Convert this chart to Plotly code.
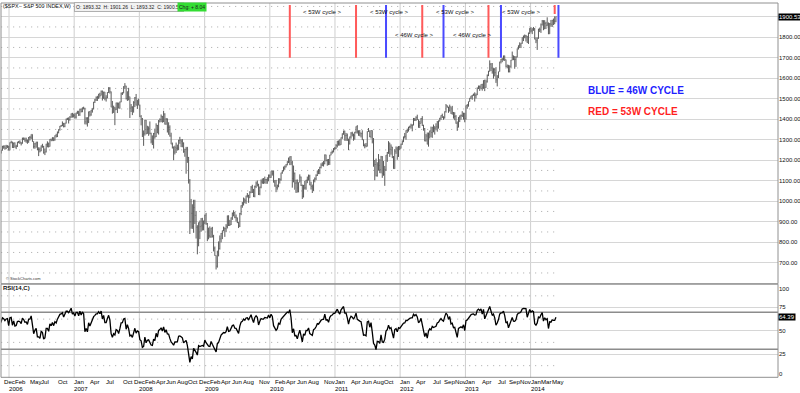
import numpy as np
import pandas as pd
import plotly.graph_objects as go

# ---------------- DATA: $SPX weekly bars (week ending Friday), from 2005-07-08 ----------------
open_ = [
    # 2005 (from Jul 8)
    1194, 1212, 1228, 1234, 1234, 1226, 1230, 1220, 1205, 1218, 1241, 1238, 1215, 1229, 1196, 1187, 1178, 1198, 1220, 1235, 1248, 1268, 1265, 1259, 1267, 1269,
    # 2006
    1248, 1286, 1288, 1262, 1284, 1264, 1267, 1287, 1289, 1287, 1281, 1307, 1303, 1295, 1296, 1289, 1311, 1311, 1326, 1291, 1267, 1280, 1288, 1252, 1252, 1245,
    1270, 1266, 1236, 1240, 1279, 1279, 1267, 1302, 1295, 1311, 1299, 1320, 1315, 1336, 1350, 1366, 1369, 1377, 1364, 1381, 1401, 1401, 1397, 1410, 1427, 1411,
    # 2007
    1418, 1410, 1431, 1431, 1422, 1448, 1438, 1456, 1451, 1387, 1403, 1387, 1436, 1421, 1444, 1453, 1484, 1494, 1506, 1506, 1523, 1516, 1536, 1508, 1533, 1503,
    1503, 1530, 1553, 1534, 1459, 1433, 1454, 1446, 1479, 1474, 1454, 1484, 1526, 1527, 1558, 1562, 1501, 1535, 1510, 1454, 1459, 1441, 1481, 1505, 1468, 1485,
    # 2008
    1468, 1412, 1401, 1325, 1331, 1395, 1331, 1350, 1353, 1331, 1293, 1288, 1330, 1315, 1370, 1333, 1390, 1398, 1414, 1388, 1425, 1376, 1400, 1361, 1360, 1318,
    1278, 1263, 1240, 1261, 1258, 1260, 1296, 1298, 1292, 1283, 1242, 1252, 1255, 1213, 1099, 899, 941, 877, 969, 931, 873, 800, 896, 876, 880, 888,
    # 2009 (+ week ending 2010-01-01)
    903, 932, 890, 850, 832, 826, 869, 827, 770, 735, 683, 757, 769, 816, 843, 857, 870, 866, 878, 929, 883, 887, 919, 940, 946, 921,
    919, 896, 879, 940, 979, 988, 1011, 1004, 1026, 1029, 1016, 1043, 1068, 1044, 1025, 1072, 1088, 1080, 1036, 1069, 1094, 1091, 1092, 1106, 1106, 1103, 1127,
    # 2010
    1116, 1145, 1136, 1092, 1074, 1066, 1075, 1109, 1105, 1139, 1150, 1160, 1167, 1178, 1194, 1192, 1217, 1187, 1111, 1136, 1088, 1089, 1065, 1092, 1118, 1077,
    1023, 1078, 1065, 1103, 1102, 1122, 1079, 1072, 1065, 1105, 1110, 1126, 1149, 1146, 1165, 1176, 1183, 1183, 1226, 1199, 1200, 1189, 1225, 1240, 1244, 1257,
    # 2011
    1258, 1272, 1293, 1283, 1276, 1311, 1329, 1343, 1320, 1321, 1304, 1279, 1314, 1332, 1328, 1320, 1337, 1364, 1340, 1338, 1333, 1331, 1300, 1271, 1272, 1268,
    1340, 1344, 1316, 1345, 1292, 1199, 1179, 1124, 1177, 1174, 1154, 1216, 1136, 1131, 1155, 1225, 1238, 1285, 1253, 1264, 1216, 1159, 1244, 1255, 1220, 1265,
    # 2012
    1258, 1278, 1289, 1315, 1316, 1345, 1343, 1361, 1366, 1370, 1371, 1404, 1397, 1409, 1398, 1370, 1379, 1403, 1369, 1353, 1295, 1318, 1278, 1326, 1343, 1335,
    1362, 1355, 1357, 1363, 1386, 1391, 1406, 1418, 1411, 1407, 1438, 1466, 1460, 1441, 1461, 1429, 1433, 1412, 1414, 1380, 1360, 1409, 1416, 1418, 1414, 1430,
    # 2013
    1402, 1467, 1472, 1486, 1503, 1513, 1518, 1520, 1516, 1518, 1551, 1561, 1557, 1569, 1553, 1589, 1555, 1582, 1614, 1634, 1668, 1650, 1631, 1643, 1627, 1592,
    1606, 1632, 1680, 1692, 1692, 1710, 1691, 1656, 1664, 1633, 1655, 1688, 1710, 1692, 1691, 1703, 1745, 1760, 1762, 1771, 1798, 1805, 1806, 1805, 1775, 1818,
    # 2014
    1841, 1831, 1842, 1839, 1790, 1783, 1797, 1839, 1836, 1860, 1878, 1841, 1867, 1858, 1865, 1816, 1865, 1863, 1881, 1878, 1878,
]
high = [
    1212, 1229, 1237, 1245, 1245, 1237, 1234, 1222, 1221, 1243, 1244, 1238, 1233, 1233, 1197, 1197, 1202, 1224, 1237, 1249, 1270, 1272, 1273, 1275, 1273, 1270,
    1287, 1295, 1290, 1286, 1287, 1275, 1290, 1294, 1297, 1288, 1310, 1311, 1310, 1310, 1301, 1313, 1318, 1326, 1326, 1292, 1284, 1290, 1290, 1263, 1262, 1272,
    1280, 1270, 1257, 1280, 1292, 1286, 1303, 1305, 1312, 1311, 1321, 1329, 1340, 1351, 1367, 1372, 1389, 1382, 1382, 1403, 1407, 1409, 1415, 1428, 1431, 1427,
    1429, 1432, 1441, 1441, 1449, 1453, 1457, 1461, 1456, 1410, 1410, 1437, 1440, 1445, 1453, 1484, 1499, 1511, 1514, 1523, 1529, 1540, 1540, 1534, 1533, 1517,
    1532, 1556, 1556, 1535, 1489, 1466, 1460, 1481, 1481, 1481, 1486, 1530, 1532, 1561, 1576, 1563, 1535, 1553, 1510, 1474, 1463, 1488, 1508, 1523, 1495, 1500,
    1471, 1420, 1406, 1345, 1396, 1396, 1368, 1365, 1389, 1334, 1321, 1333, 1354, 1380, 1372, 1396, 1404, 1423, 1416, 1441, 1429, 1406, 1404, 1385, 1370, 1334,
    1286, 1267, 1271, 1286, 1276, 1300, 1314, 1302, 1303, 1287, 1256, 1265, 1265, 1216, 1108, 1011, 985, 1007, 1007, 952, 883, 896, 906, 918, 919, 906,
    934, 943, 894, 871, 877, 870, 875, 836, 779, 736, 758, 804, 833, 845, 857, 876, 871, 888, 930, 931, 909, 921, 945, 956, 947, 935,
    920, 898, 943, 980, 996, 1018, 1013, 1027, 1040, 1031, 1049, 1074, 1080, 1060, 1076, 1096, 1101, 1085, 1071, 1106, 1111, 1113, 1120, 1108, 1117, 1130, 1130,
    1146, 1150, 1150, 1103, 1104, 1081, 1112, 1112, 1139, 1151, 1169, 1174, 1181, 1195, 1213, 1218, 1220, 1197, 1174, 1140, 1105, 1106, 1092, 1131, 1120, 1081,
    1079, 1099, 1104, 1120, 1130, 1129, 1095, 1081, 1105, 1116, 1131, 1149, 1157, 1168, 1185, 1190, 1196, 1228, 1227, 1205, 1206, 1226, 1241, 1247, 1259, 1264,
    1278, 1294, 1296, 1302, 1311, 1331, 1344, 1344, 1333, 1330, 1304, 1315, 1337, 1339, 1329, 1338, 1365, 1371, 1346, 1347, 1334, 1346, 1301, 1281, 1284, 1341,
    1357, 1344, 1347, 1345, 1308, 1201, 1208, 1190, 1230, 1205, 1221, 1220, 1196, 1172, 1225, 1240, 1293, 1285, 1277, 1265, 1220, 1254, 1267, 1266, 1269, 1270,
    1281, 1297, 1315, 1333, 1346, 1354, 1363, 1368, 1378, 1375, 1406, 1405, 1414, 1422, 1391, 1392, 1406, 1415, 1373, 1357, 1328, 1335, 1335, 1344, 1364, 1362,
    1374, 1366, 1380, 1391, 1394, 1406, 1419, 1427, 1414, 1438, 1474, 1467, 1457, 1471, 1460, 1465, 1435, 1434, 1420, 1389, 1410, 1418, 1423, 1439, 1431, 1430,
    1467, 1473, 1486, 1503, 1514, 1518, 1525, 1531, 1526, 1555, 1564, 1564, 1570, 1573, 1590, 1593, 1593, 1618, 1636, 1687, 1674, 1674, 1649, 1649, 1654, 1615,
    1632, 1680, 1694, 1699, 1710, 1709, 1690, 1666, 1663, 1663, 1689, 1730, 1710, 1708, 1707, 1745, 1760, 1775, 1772, 1799, 1808, 1813, 1811, 1806, 1823, 1844,
    1849, 1843, 1850, 1845, 1799, 1798, 1841, 1847, 1867, 1884, 1883, 1883, 1875, 1897, 1872, 1869, 1884, 1885, 1891, 1902, 1901.26,
]
low = [
    1183, 1212, 1221, 1224, 1222, 1221, 1216, 1205, 1201, 1218, 1229, 1212, 1211, 1194, 1168, 1168, 1174, 1198, 1218, 1233, 1247, 1256, 1251, 1254, 1259, 1248,
    1248, 1282, 1260, 1259, 1262, 1254, 1265, 1283, 1279, 1272, 1281, 1298, 1290, 1285, 1280, 1285, 1296, 1303, 1290, 1257, 1256, 1261, 1249, 1220, 1238, 1244,
    1261, 1232, 1225, 1238, 1263, 1262, 1266, 1293, 1295, 1293, 1295, 1311, 1313, 1331, 1344, 1363, 1366, 1360, 1361, 1379, 1396, 1379, 1393, 1407, 1408, 1409,
    1403, 1403, 1426, 1416, 1416, 1433, 1434, 1448, 1375, 1374, 1364, 1381, 1413, 1417, 1432, 1447, 1479, 1489, 1489, 1499, 1505, 1516, 1491, 1499, 1492, 1486,
    1503, 1528, 1525, 1458, 1427, 1431, 1371, 1445, 1430, 1453, 1451, 1483, 1518, 1527, 1547, 1496, 1489, 1492, 1406, 1435, 1420, 1432, 1459, 1467, 1450, 1467,
    1411, 1370, 1313, 1270, 1320, 1326, 1329, 1319, 1326, 1282, 1274, 1257, 1305, 1313, 1332, 1325, 1384, 1386, 1383, 1386, 1374, 1373, 1335, 1324, 1315, 1278,
    1257, 1200, 1228, 1235, 1247, 1249, 1280, 1264, 1263, 1236, 1217, 1134, 1187, 1086, 840, 866, 865, 846, 889, 818, 741, 780, 815, 851, 857, 858,
    888, 885, 805, 814, 822, 822, 823, 755, 734, 667, 676, 731, 764, 799, 815, 854, 826, 849, 867, 879, 879, 884, 909, 926, 917, 901,
    893, 869, 874, 932, 968, 979, 990, 987, 1018, 992, 1016, 1039, 1040, 1020, 1019, 1064, 1072, 1030, 1029, 1063, 1085, 1084, 1086, 1085, 1085, 1097, 1114,
    1114, 1125, 1091, 1071, 1044, 1056, 1068, 1086, 1100, 1134, 1145, 1153, 1165, 1175, 1186, 1176, 1176, 1066, 1092, 1056, 1040, 1042, 1043, 1092, 1074, 1011,
    1018, 1057, 1056, 1088, 1102, 1078, 1057, 1040, 1050, 1092, 1103, 1123, 1132, 1132, 1160, 1171, 1169, 1180, 1194, 1173, 1176, 1177, 1224, 1232, 1238, 1249,
    1254, 1262, 1271, 1271, 1275, 1304, 1324, 1295, 1294, 1294, 1249, 1277, 1305, 1316, 1295, 1300, 1331, 1330, 1319, 1317, 1311, 1298, 1268, 1258, 1263, 1267,
    1338, 1312, 1306, 1282, 1168, 1102, 1121, 1120, 1149, 1137, 1136, 1114, 1124, 1075, 1148, 1192, 1231, 1216, 1227, 1210, 1158, 1158, 1231, 1202, 1216, 1249,
    1257, 1275, 1290, 1306, 1300, 1333, 1340, 1355, 1354, 1341, 1370, 1391, 1391, 1396, 1358, 1357, 1379, 1367, 1344, 1292, 1291, 1277, 1266, 1306, 1312, 1309,
    1336, 1325, 1346, 1339, 1354, 1389, 1397, 1406, 1397, 1403, 1432, 1456, 1431, 1438, 1426, 1422, 1403, 1395, 1378, 1343, 1365, 1386, 1398, 1411, 1398, 1385,
    1398, 1451, 1461, 1485, 1499, 1495, 1514, 1486, 1501, 1521, 1547, 1538, 1546, 1539, 1548, 1537, 1553, 1579, 1610, 1632, 1635, 1622, 1598, 1609, 1577, 1560,
    1601, 1638, 1672, 1678, 1686, 1684, 1654, 1648, 1628, 1628, 1652, 1688, 1688, 1646, 1655, 1702, 1740, 1747, 1747, 1768, 1781, 1795, 1779, 1772, 1767, 1816,
    1823, 1815, 1831, 1790, 1771, 1738, 1792, 1825, 1821, 1857, 1834, 1839, 1840, 1855, 1815, 1816, 1851, 1850, 1859, 1863, 1873,
]
close = [
    1212, 1228, 1234, 1234, 1226, 1230, 1220, 1205, 1218, 1241, 1238, 1215, 1229, 1196, 1187, 1178, 1198, 1220, 1235, 1248, 1268, 1265, 1259, 1267, 1269, 1248,
    1286, 1288, 1262, 1284, 1264, 1267, 1287, 1289, 1287, 1281, 1307, 1303, 1295, 1296, 1289, 1311, 1311, 1326, 1291, 1267, 1280, 1288, 1252, 1252, 1245, 1270,
    1266, 1236, 1240, 1279, 1279, 1267, 1302, 1295, 1311, 1299, 1320, 1315, 1336, 1350, 1366, 1369, 1377, 1364, 1381, 1401, 1401, 1397, 1410, 1427, 1411, 1418,
    1410, 1431, 1431, 1422, 1448, 1438, 1456, 1451, 1387, 1403, 1387, 1436, 1421, 1444, 1453, 1484, 1494, 1506, 1506, 1523, 1516, 1536, 1508, 1533, 1503, 1503,
    1530, 1553, 1534, 1459, 1433, 1454, 1446, 1479, 1474, 1454, 1484, 1526, 1527, 1558, 1562, 1501, 1535, 1510, 1454, 1459, 1441, 1481, 1505, 1468, 1485, 1479,
    1412, 1401, 1325, 1331, 1395, 1331, 1350, 1353, 1331, 1293, 1288, 1330, 1315, 1370, 1333, 1390, 1398, 1414, 1388, 1425, 1376, 1400, 1361, 1360, 1318, 1278,
    1263, 1240, 1261, 1258, 1260, 1296, 1298, 1292, 1283, 1242, 1252, 1255, 1213, 1099, 899, 941, 877, 969, 931, 873, 800, 896, 876, 880, 888, 873,
    932, 890, 850, 832, 826, 869, 827, 770, 735, 683, 757, 769, 816, 843, 857, 870, 866, 878, 929, 883, 887, 919, 940, 946, 921, 919,
    896, 879, 940, 979, 988, 1011, 1004, 1026, 1029, 1016, 1043, 1068, 1044, 1025, 1072, 1088, 1080, 1036, 1069, 1094, 1091, 1092, 1106, 1106, 1103, 1127, 1115,
    1145, 1136, 1092, 1074, 1066, 1075, 1109, 1105, 1139, 1150, 1160, 1167, 1178, 1194, 1192, 1217, 1187, 1111, 1136, 1088, 1089, 1065, 1092, 1118, 1077, 1023,
    1078, 1065, 1103, 1102, 1122, 1079, 1072, 1065, 1105, 1110, 1126, 1149, 1146, 1165, 1176, 1183, 1183, 1226, 1199, 1200, 1189, 1225, 1240, 1244, 1257, 1258,
    1272, 1293, 1283, 1276, 1311, 1329, 1343, 1320, 1321, 1304, 1279, 1314, 1332, 1328, 1320, 1337, 1364, 1340, 1338, 1333, 1331, 1300, 1271, 1272, 1268, 1340,
    1344, 1316, 1345, 1292, 1199, 1179, 1124, 1177, 1174, 1154, 1216, 1136, 1131, 1155, 1225, 1238, 1285, 1253, 1264, 1216, 1159, 1244, 1255, 1220, 1265, 1258,
    1278, 1289, 1315, 1316, 1345, 1343, 1361, 1366, 1370, 1371, 1404, 1397, 1409, 1398, 1370, 1379, 1403, 1369, 1353, 1295, 1318, 1278, 1326, 1343, 1335, 1362,
    1355, 1357, 1363, 1386, 1391, 1406, 1418, 1411, 1407, 1438, 1466, 1460, 1441, 1461, 1429, 1433, 1412, 1414, 1380, 1360, 1409, 1416, 1418, 1414, 1430, 1402,
    1467, 1472, 1486, 1503, 1513, 1518, 1520, 1516, 1518, 1551, 1561, 1557, 1569, 1553, 1589, 1555, 1582, 1614, 1634, 1668, 1650, 1631, 1643, 1627, 1592, 1606,
    1632, 1680, 1692, 1692, 1710, 1691, 1656, 1664, 1633, 1655, 1688, 1710, 1692, 1691, 1703, 1745, 1760, 1762, 1771, 1798, 1805, 1806, 1805, 1775, 1818, 1841,
    1831, 1842, 1839, 1790, 1783, 1797, 1839, 1836, 1860, 1878, 1841, 1867, 1858, 1865, 1816, 1865, 1863, 1881, 1878, 1878, 1900.53,
]

# cycle markers (dates) and annotation texts
cycle53_dates = ["2010-04-23", "2011-04-29", "2012-05-04", "2013-05-10", "2014-05-16"]
cycle46_dates = ["2011-10-14", "2012-08-31", "2013-07-19", "2014-06-06"]

month_ticks = ["2005-12-01", "2006-02-01", "2006-05-01", "2006-07-01", "2006-10-01",
               "2007-01-01", "2007-04-01", "2007-07-01", "2007-10-01", "2007-12-01",
               "2008-02-01", "2008-04-01", "2008-06-01", "2008-08-01", "2008-10-01", "2008-12-01",
               "2009-02-01", "2009-04-01", "2009-06-01", "2009-08-01", "2009-11-01",
               "2010-02-01", "2010-04-01", "2010-06-01", "2010-08-01", "2010-11-01",
               "2011-01-01", "2011-04-01", "2011-06-01", "2011-08-01", "2011-10-01",
               "2012-01-01", "2012-04-01", "2012-07-01", "2012-09-01", "2012-11-01",
               "2013-01-01", "2013-04-01", "2013-07-01", "2013-09-01", "2013-11-01",
               "2014-01-01", "2014-03-01", "2014-05-01"]
month_text = ["Dec", "Feb", "May", "Jul", "Oct",
              "Jan", "Apr", "Jul", "Oct", "Dec",
              "Feb", "Apr", "Jun", "Aug", "Oct", "Dec",
              "Feb", "Apr", "Jun", "Aug", "Nov",
              "Feb", "Apr", "Jun", "Aug", "Nov",
              "Jan", "Apr", "Jun", "Aug", "Oct",
              "Jan", "Apr", "Jul", "Sep", "Nov",
              "Jan", "Apr", "Jul", "Sep", "Nov",
              "Jan", "Mar", "May"]
year_text = ["2006", "2007", "2008", "2009", "2010", "2011", "2012", "2013", "2014"]

price_ticks = [700, 800, 900, 1000, 1100, 1200, 1300, 1400, 1500, 1600, 1700, 1800, 1900]
rsi_ticks = [25, 50, 75]

header_title = "($SPX - S&P 500 INDEX,W)"
header_ohlc = "O: 1893.32  H: 1901.26  L: 1893.32  C: 1900.53"
header_chg = "Chg: + 8.04"

# ---------------- derived ----------------
n = min(len(open_), len(high), len(low), len(close))
o = np.array(open_[:n], float)
c = np.array(close[:n], float)
h = np.maximum.reduce([np.array(high[:n], float), o, c])
l = np.minimum.reduce([np.array(low[:n], float), o, c])
dates = pd.date_range("2005-07-08", periods=n, freq="W-FRI")


def wilder_rsi(vals, period=14):
    d = np.diff(vals)
    g = np.clip(d, 0, None)
    ls = np.clip(-d, 0, None)
    out = np.full(len(vals), np.nan)
    ag = g[:period].mean()
    al = ls[:period].mean()
    out[period] = 100 - 100 / (1 + ag / al)
    for i in range(period + 1, len(vals)):
        ag = (ag * (period - 1) + g[i - 1]) / period
        al = (al * (period - 1) + ls[i - 1]) / period
        out[i] = 100 - 100 / (1 + ag / al)
    return out


rsi = wilder_rsi(c)

X_START, X_END = "2005-11-17", "2017-10-18"
vis = dates >= pd.Timestamp(X_START)
first_vis = dates[vis][0]
last_date = dates[-1]

# ---------------- layout geometry (pixels) ----------------
W, H = 800, 393
ML, MR, MT, MB = 1, 22, 3, 15
PH = H - MT - MB
PW = W - ML - MR


def py(ypx):
    return (H - MB - ypx) / PH


def px(xpx):
    return (xpx - ML) / PW


main_dom = [py(283.7), 1.0]
rsi_dom = [py(377.3), py(284.2)]

FONT = "Liberation Sans, Arial, sans-serif"

fig = go.Figure()
fig.add_trace(go.Ohlc(
    x=dates, open=o, high=h, low=l, close=c,
    increasing=dict(line=dict(color="#5a5a5a", width=1)),
    decreasing=dict(line=dict(color="#5a5a5a", width=1)),
    tickwidth=0.3, xaxis="x", yaxis="y", hoverinfo="skip", showlegend=False,
))
fig.add_trace(go.Scatter(
    x=dates, y=rsi, mode="lines", line=dict(color="#000000", width=1.3),
    xaxis="x", yaxis="y2", hoverinfo="skip", showlegend=False,
))

shapes = []
for yr in year_text:
    shapes.append(dict(type="line", xref="x", yref="paper", x0=f"{yr}-01-01", x1=f"{yr}-01-01",
                       y0=0, y1=1, line=dict(color="#cfcfcf", width=1), layer="below"))
for v in range(650, 1960, 100):
    shapes.append(dict(type="line", xref="x", yref="y", x0=first_vis, x1=last_date, y0=v, y1=v,
                       line=dict(color="#a8a8a8", width=1, dash="1px,5px"), layer="below"))
for v in [12.5, 37.5, 62.5, 87.5]:
    shapes.append(dict(type="line", xref="x", yref="y2", x0=first_vis, x1=last_date, y0=v, y1=v,
                       line=dict(color="#a8a8a8", width=1, dash="1px,5px"), layer="below"))
for v in [30, 70]:
    shapes.append(dict(type="line", xref="paper", yref="y2", x0=0, x1=1, y0=v, y1=v,
                       line=dict(color="#8c8c8c", width=1.5), layer="below"))
for dom in (main_dom, rsi_dom):
    shapes.append(dict(type="rect", xref="paper", yref="paper", x0=0, x1=1, y0=dom[0], y1=dom[1],
                       line=dict(color="#909090", width=1), fillcolor="rgba(0,0,0,0)", layer="above"))
for i, d in enumerate(cycle53_dates):
    y0 = 1913 if i == len(cycle53_dates) - 1 else 1700
    shapes.append(dict(type="line", xref="x", yref="y", x0=d, x1=d, y0=y0, y1=1957,
                       line=dict(color="#ff5a5a", width=2)))
for d in cycle46_dates:
    shapes.append(dict(type="line", xref="x", yref="y", x0=d, x1=d, y0=1700, y1=1957,
                       line=dict(color="#4a4aff", width=2)))

ann = []
small = dict(family=FONT, size=6, color="#111111")
ann.append(dict(text=header_title, x=px(2), y=py(6.5), xref="paper", yref="paper", xanchor="left",
                yanchor="middle", showarrow=False, borderpad=0,
                font=dict(family=FONT, size=5.4, color="#111")))
ann.append(dict(text=header_ohlc, x=px(74), y=py(7), xref="paper", yref="paper", xanchor="left",
                yanchor="middle", showarrow=False, font=dict(family=FONT, size=5, color="#222"),
                bgcolor="#f2f2f2", bordercolor="#b0b0b0", borderwidth=1, borderpad=1))
ann.append(dict(text=header_chg, x=px(177), y=py(7), xref="paper", yref="paper", xanchor="left",
                yanchor="middle", showarrow=False, font=dict(family=FONT, size=5, color="#222"),
                bgcolor="#33dd33", borderpad=1))
c53 = pd.to_datetime(cycle53_dates)
for a, b in zip(c53[:-1], c53[1:]):
    ann.append(dict(text="< 53W cycle >", x=a + (b - a) / 2, y=1921, xref="x", yref="y",
                    showarrow=False, font=small))
c46 = pd.to_datetime(cycle46_dates)
for a, b in list(zip(c46[:-1], c46[1:]))[:2]:
    ann.append(dict(text="< 46W cycle >", x=a + (b - a) / 2, y=1812, xref="x", yref="y",
                    showarrow=False, font=small))
ann.append(dict(text="<b>BLUE = 46W CYCLE</b>", x=px(586), y=py(90), xref="paper", yref="paper",
                xanchor="left", yanchor="middle", showarrow=False,
                font=dict(family=FONT, size=10, color="#1f1fff")))
ann.append(dict(text="<b>RED = 53W CYCLE</b>", x=px(586), y=py(111.7), xref="paper", yref="paper",
                xanchor="left", yanchor="middle", showarrow=False,
                font=dict(family=FONT, size=10, color="#ff1f1f")))
ann.append(dict(text="© StockCharts.com", x=px(4), y=py(278.5), xref="paper", yref="paper",
                xanchor="left", yanchor="middle", showarrow=False,
                font=dict(family=FONT, size=4, color="#333")))
ann.append(dict(text="<b>RSI(14,C)</b>", x=px(1), y=py(287.8), xref="paper", yref="paper",
                xanchor="left", yanchor="middle", showarrow=False,
                font=dict(family=FONT, size=6, color="#111")))
for v in price_ticks:
    if v == 1900:
        continue
    ann.append(dict(text=f"{v:.2f}", x=1, y=v, xref="paper", yref="y", xanchor="left",
                    yanchor="middle", xshift=0, showarrow=False, borderpad=0, font=small))
for v in rsi_ticks:
    ann.append(dict(text=str(v), x=1, y=v, xref="paper", yref="y2", xanchor="left",
                    yanchor="middle", xshift=0, showarrow=False, borderpad=0, font=small))
ann.append(dict(text="100", x=1, y=100, xref="paper", yref="y2", xanchor="left", yanchor="middle",
                xshift=0, yshift=-5, showarrow=False, borderpad=0, font=small))
ann.append(dict(text="0", x=1, y=0, xref="paper", yref="y2", xanchor="left", yanchor="middle",
                xshift=0, yshift=3, showarrow=False, borderpad=0, font=small))
ann.append(dict(text=f"{c[-1]:.2f}", x=1, y=c[-1], xref="paper", yref="y", xanchor="left",
                yanchor="middle", xshift=0, showarrow=False, bgcolor="#000000", borderpad=0,
                font=dict(family=FONT, size=6, color="#ffffff")))
ann.append(dict(text=f"{rsi[-1]:.2f}", x=1, y=rsi[-1], xref="paper", yref="y2", xanchor="left",
                yanchor="middle", xshift=0, showarrow=False, bgcolor="#000000", borderpad=0,
                font=dict(family=FONT, size=6, color="#ffffff")))
for d, t in zip(month_ticks, month_text):
    ann.append(dict(text=t, x=d, y=0, xref="x", yref="paper", xanchor="left",
                    yanchor="middle", yshift=-3, xshift=-1, showarrow=False, borderpad=0,
                    font=dict(family=FONT, size=6.1, color="#000")))
for yr in year_text:
    ann.append(dict(text=yr, x=f"{yr}-01-01", y=0, xref="x", yref="paper",
                    xanchor="left", yanchor="middle", yshift=-10, xshift=-1, showarrow=False,
                    borderpad=0, font=dict(family=FONT, size=6.1, color="#000")))

fig.update_layout(
    width=W, height=H,
    margin=dict(l=ML, r=MR, t=MT, b=MB),
    paper_bgcolor="#ffffff", plot_bgcolor="#ffffff",
    showlegend=False,
    font=dict(family=FONT, size=6, color="#111"),
    xaxis=dict(type="date", range=[X_START, X_END], showgrid=False, showticklabels=False,
               zeroline=False, showline=False, ticks="", anchor="y2",
               rangeslider=dict(visible=False), fixedrange=True),
    yaxis=dict(domain=main_dom, range=[597.6, 1966.8], side="right", anchor="x",
               tickvals=price_ticks, showticklabels=False,
               showgrid=True, gridcolor="#d6d6d6", gridwidth=1, zeroline=False,
               showline=False, ticks="", fixedrange=True),
    yaxis2=dict(domain=rsi_dom, range=[0, 100], side="right", anchor="x",
                tickvals=rsi_ticks, showticklabels=False,
                showgrid=True, gridcolor="#d6d6d6", gridwidth=1, zeroline=False,
                showline=False, ticks="", fixedrange=True),
    shapes=shapes,
    annotations=ann,
)

fig.write_html("out.html", config={"displayModeBar": False},
               post_script="document.body.style.margin='0';document.body.style.overflow='hidden';")
